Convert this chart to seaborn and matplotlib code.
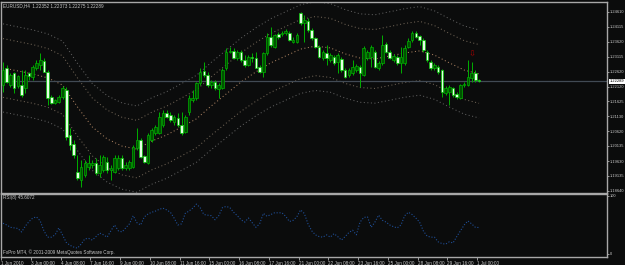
import numpy as np
import pandas as pd
import matplotlib
matplotlib.use("Agg")
import matplotlib.pyplot as plt
import matplotlib.transforms as mtransforms
import seaborn as sns

# ---------------- data (EURUSD H4, 1 Jun 16:00 -> 1 Jul 00:00 2010) ----------------
opens = [1.2217, 1.2274, 1.2217, 1.2257, 1.2214, 1.2217, 1.2207, 1.2257, 1.2244, 1.2274,
         1.2284, 1.2297, 1.2261, 1.2177, 1.2157, 1.2160, 1.2177, 1.2200, 1.2050, 1.2020,
         1.1927, 1.1900, 1.1917, 1.1943, 1.1950, 1.1957, 1.1923, 1.1933, 1.1960, 1.1933,
         1.1927, 1.1940, 1.1973, 1.1940, 1.1940, 1.1943, 1.2007, 1.2033, 1.1980, 1.1957,
         1.2033, 1.2057, 1.2057, 1.2083, 1.2124, 1.2117, 1.2094, 1.2107, 1.2083, 1.2060,
         1.2127, 1.2167, 1.2174, 1.2224, 1.2264, 1.2251, 1.2217, 1.2227, 1.2204, 1.2207,
         1.2274, 1.2327, 1.2331, 1.2307, 1.2327, 1.2301, 1.2284, 1.2311, 1.2307, 1.2277,
         1.2261, 1.2324, 1.2377, 1.2344, 1.2387, 1.2387, 1.2391, 1.2391, 1.2361, 1.2361,
         1.2458, 1.2424, 1.2431, 1.2401, 1.2374, 1.2344, 1.2307, 1.2324, 1.2301, 1.2311,
         1.2294, 1.2304, 1.2267, 1.2251, 1.2257, 1.2267, 1.2277, 1.2251, 1.2307, 1.2311,
         1.2327, 1.2274, 1.2291, 1.2354, 1.2327, 1.2301, 1.2311, 1.2291, 1.2291, 1.2344,
         1.2367, 1.2391, 1.2381, 1.2367, 1.2327, 1.2294, 1.2274, 1.2277, 1.2267, 1.2190,
         1.2194, 1.2207, 1.2187, 1.2174, 1.2217, 1.2217, 1.2241, 1.2257, 1.22352]
highs = [1.2294, 1.2284, 1.2257, 1.2261, 1.2251, 1.2267, 1.2267, 1.2261, 1.2284, 1.2301,
         1.2324, 1.2307, 1.2267, 1.2184, 1.2170, 1.2184, 1.2214, 1.2210, 1.2073, 1.2033,
         1.1983, 1.1967, 1.1967, 1.1983, 1.1967, 1.1973, 1.1983, 1.1983, 1.1977, 1.1950,
         1.1983, 1.1983, 1.1983, 1.1960, 1.1967, 1.2017, 1.2073, 1.2040, 1.1983, 1.2057,
         1.2073, 1.2083, 1.2127, 1.2134, 1.2134, 1.2127, 1.2117, 1.2124, 1.2127, 1.2117,
         1.2184, 1.2200, 1.2227, 1.2274, 1.2294, 1.2261, 1.2234, 1.2234, 1.2224, 1.2274,
         1.2341, 1.2344, 1.2341, 1.2334, 1.2334, 1.2317, 1.2317, 1.2324, 1.2327, 1.2284,
         1.2327, 1.2391, 1.2411, 1.2387, 1.2394, 1.2397, 1.2404, 1.2397, 1.2377, 1.2391,
         1.2461, 1.2451, 1.2441, 1.2407, 1.2377, 1.2351, 1.2334, 1.2351, 1.2324, 1.2317,
         1.2324, 1.2311, 1.2274, 1.2274, 1.2301, 1.2287, 1.2284, 1.2347, 1.2334, 1.2351,
         1.2334, 1.2297, 1.2384, 1.2361, 1.2334, 1.2321, 1.2317, 1.2344, 1.2351, 1.2374,
         1.2397, 1.2397, 1.2384, 1.2374, 1.2334, 1.2301, 1.2291, 1.2284, 1.2271, 1.2214,
         1.2217, 1.2210, 1.2194, 1.2221, 1.2227, 1.2301, 1.2294, 1.2267, 1.22373]
lows = [1.2194, 1.2224, 1.2210, 1.2190, 1.2207, 1.2177, 1.2190, 1.2234, 1.2234, 1.2267,
        1.2267, 1.2261, 1.2150, 1.2154, 1.2154, 1.2157, 1.2170, 1.2033, 1.2000, 1.1973,
        1.1900, 1.1876, 1.1910, 1.1933, 1.1940, 1.1917, 1.1910, 1.1927, 1.1923, 1.1900,
        1.1923, 1.1933, 1.1933, 1.1933, 1.1933, 1.1940, 1.2000, 1.1973, 1.1957, 1.1953,
        1.2027, 1.2050, 1.2053, 1.2077, 1.2107, 1.2094, 1.2083, 1.2077, 1.2050, 1.2057,
        1.2117, 1.2160, 1.2167, 1.2217, 1.2244, 1.2210, 1.2207, 1.2200, 1.2174, 1.2204,
        1.2267, 1.2324, 1.2304, 1.2301, 1.2294, 1.2277, 1.2281, 1.2294, 1.2274, 1.2257,
        1.2244, 1.2317, 1.2344, 1.2341, 1.2371, 1.2381, 1.2384, 1.2364, 1.2357, 1.2357,
        1.2417, 1.2361, 1.2394, 1.2367, 1.2341, 1.2307, 1.2301, 1.2284, 1.2294, 1.2284,
        1.2257, 1.2261, 1.2241, 1.2244, 1.2251, 1.2261, 1.2210, 1.2247, 1.2301, 1.2277,
        1.2274, 1.2267, 1.2284, 1.2324, 1.2304, 1.2294, 1.2284, 1.2257, 1.2284, 1.2341,
        1.2361, 1.2374, 1.2351, 1.2327, 1.2294, 1.2267, 1.2267, 1.2254, 1.2177, 1.2184,
        1.2150, 1.2177, 1.2170, 1.2170, 1.2210, 1.2214, 1.2227, 1.2227, 1.22275]
closes = [1.2267, 1.2227, 1.2251, 1.2207, 1.2247, 1.2184, 1.2251, 1.2247, 1.2277, 1.2291,
          1.2301, 1.2261, 1.2174, 1.2157, 1.2167, 1.2177, 1.2207, 1.2043, 1.2017, 1.1983,
          1.1906, 1.1943, 1.1957, 1.1957, 1.1957, 1.1923, 1.1950, 1.1977, 1.1933, 1.1940,
          1.1973, 1.1973, 1.1940, 1.1950, 1.1960, 1.2010, 1.2033, 1.1977, 1.1960, 1.2050,
          1.2067, 1.2077, 1.2110, 1.2124, 1.2110, 1.2101, 1.2110, 1.2083, 1.2057, 1.2110,
          1.2174, 1.2174, 1.2224, 1.2261, 1.2251, 1.2217, 1.2227, 1.2207, 1.2217, 1.2267,
          1.2327, 1.2331, 1.2307, 1.2327, 1.2301, 1.2284, 1.2311, 1.2307, 1.2274, 1.2261,
          1.2324, 1.2377, 1.2351, 1.2384, 1.2377, 1.2391, 1.2397, 1.2367, 1.2367, 1.2384,
          1.2424, 1.2434, 1.2401, 1.2374, 1.2344, 1.2311, 1.2327, 1.2307, 1.2317, 1.2291,
          1.2317, 1.2267, 1.2244, 1.2267, 1.2277, 1.2281, 1.2257, 1.2341, 1.2327, 1.2344,
          1.2277, 1.2291, 1.2351, 1.2327, 1.2307, 1.2314, 1.2291, 1.2311, 1.2341, 1.2364,
          1.2391, 1.2377, 1.2367, 1.2334, 1.2301, 1.2274, 1.2284, 1.2261, 1.2194, 1.2207,
          1.2210, 1.2184, 1.2177, 1.2217, 1.2221, 1.2244, 1.2257, 1.2234, 1.22289]

rsi_values = [53, 50, 46, 45, 44, 38, 48, 56, 62, 64, 57, 40, 29, 29, 33, 45, 33, 20, 15, 12,
              10, 17, 26, 27, 24, 30, 36, 33, 29, 40, 50, 40, 38, 45, 52, 66, 54, 50, 64, 69,
              72, 74, 77, 79, 76, 72, 62, 50, 52, 70, 74, 79, 86, 80, 68, 67, 66, 59, 66, 80,
              82, 80, 72, 66, 59, 55, 62, 54, 46, 52, 70, 65, 68, 71, 71, 71, 65, 56, 58, 64,
              76, 70, 52, 40, 33, 30, 29, 33, 29, 35, 30, 24, 30, 37, 41, 33, 55, 63, 64, 46,
              55, 67, 58, 55, 50, 47, 45, 50, 66, 72, 68, 62, 55, 40, 31, 29, 29, 21, 18, 17,
              21, 19, 30, 40, 50, 57, 52, 46, 45.6072]

ma_bars = list(range(0, 129, 4))
ma_values = [1.2274, 1.2264, 1.2254, 1.2241, 1.2217, 1.2144, 1.2077, 1.2037, 1.2013, 1.2003,
             1.2030, 1.2050, 1.2077, 1.2104, 1.2147, 1.2187, 1.2227, 1.2261, 1.2291, 1.2314,
             1.2337, 1.2347, 1.2341, 1.2321, 1.2307, 1.2304, 1.2314, 1.2324, 1.2331, 1.2317,
             1.2291, 1.2267, 1.2254]
env_inner = 0.008
env_outer = 0.012

price_ticks = [1.24610, 1.24115, 1.23620, 1.23115, 1.22620, 1.22120, 1.21625,
               1.21130, 1.20620, 1.20135, 1.19630, 1.19135, 1.18640]
bid_price = 1.22289
date_bars = list(range(0, 129, 8))
date_labels = ["1 Jun 2010", "3 Jun 00:00", "4 Jun 08:00", "7 Jun 16:00", "9 Jun 00:00",
               "10 Jun 08:00", "11 Jun 16:00", "15 Jun 00:00", "16 Jun 08:00", "17 Jun 16:00",
               "21 Jun 00:00", "22 Jun 08:00", "23 Jun 16:00", "25 Jun 00:00", "28 Jun 08:00",
               "29 Jun 16:00", "1 Jul 00:00"]
fractal_bars = [126]
fractal_prices = [1.2321]
title_text = "EURUSD,H4  1.22352 1.22373 1.22275 1.22289"
rsi_title = "RSI(8) 45.6072"
footer = "FxPro MT4, \u00a9 2001-2009 MetaQuotes Software Corp."

# ---------------- styling ----------------
sns.set_theme(style="dark")
BG = "#0b0c0c"
plt.rcParams.update({
    "figure.facecolor": BG, "axes.facecolor": BG, "savefig.facecolor": BG,
    "axes.edgecolor": "#b0b0b0", "axes.grid": False,
})
plt.rcParams["font.family"] = ["Liberation Sans", "DejaVu Sans"]
FS = 3.3
FSY = 2.85
TXT = "#c8c8c8"

W, H = 625, 265
fig = plt.figure(figsize=(W / 100, H / 100), dpi=100)

def fy(py):
    return 1 - py / H

ax = fig.add_axes([1 / W, fy(192.5), 606 / W, (192.5 - 2) / H])
axr = fig.add_axes([1 / W, fy(257), 606 / W, (257 - 193.5) / H], sharex=ax)

idx = np.arange(len(closes))
o = np.array(opens); c = np.array(closes); h = np.array(highs); l = np.array(lows)
bull = c >= o

# envelopes and moving average
ma = np.array(ma_values)
band_specs = [(env_outer, "#5e5e5e"), (env_inner, "#6e6254"), (0.0, "#a88060"),
              (-env_inner, "#6e6254"), (-env_outer, "#5e5e5e")]
for k, col in band_specs:
    sns.lineplot(x=ma_bars, y=ma * (1 + k), ax=ax, color=col, linewidth=0.75,
                 linestyle=(0, (1, 2.4)), legend=False, errorbar=None, zorder=1)

# bid line
ax.axhline(bid_price, color="#414a54", linewidth=0.9, zorder=1)

# candles
wick_col = "#00b000"
ax.vlines(idx, l, h, color=wick_col, linewidth=0.7, zorder=2)
bh = np.maximum(np.abs(c - o), 0.00012)
ax.bar(idx[bull], bh[bull], bottom=np.minimum(o, c)[bull], width=0.7,
       color="#005200", edgecolor="#00b000", linewidth=0.5, zorder=3)
ax.bar(idx[~bull], bh[~bull], bottom=np.minimum(o, c)[~bull], width=0.7,
       color="#e4ffe4", edgecolor="#00c800", linewidth=0.5, zorder=3)

for fb, fp in zip(fractal_bars, fractal_prices):
    ax.text(fb, fp, "\u21e9", color="#a80000", fontsize=6, ha="center", va="center",
            family="DejaVu Sans", zorder=4)

# axes ranges
ax.set_xlim(-0.54, 162.4)
ax.set_ylim(1.18580, 1.24943)
axr.set_ylim(-5.2, 104.3)

# RSI
sns.lineplot(x=idx, y=rsi_values, ax=axr, color="#1f4f98", linewidth=0.8,
             linestyle=(0, (1, 1.6)), legend=False, errorbar=None)

# ticks and labels
for a in (ax, axr):
    a.yaxis.tick_right()
    a.tick_params(axis="y", direction="out", length=1.6, width=0.6, colors="#b0b0b0",
                  labelcolor=TXT, labelsize=FSY, pad=0.6)
    for s in a.spines.values():
        s.set_color("#a8a8a8")
        s.set_linewidth(1.0)
    a.set_xlabel("")
    a.set_ylabel("")

ax.set_yticks(price_ticks)
ax.set_yticklabels([f"{p:.5f}" for p in price_ticks])
ax.tick_params(axis="x", bottom=False, labelbottom=False)

axr.set_yticks([100, 0])
axr.set_yticklabels(["100", "0"])
axr.set_xticks([b - 0.5 for b in date_bars])
axr.set_xticklabels(date_labels, ha="left")
axr.tick_params(axis="x", direction="out", length=2.2, width=0.6, colors="#b0b0b0",
                labelcolor=TXT, labelsize=FS, pad=0.8, bottom=True, labelbottom=True)

# current price box
tr = mtransforms.blended_transform_factory(ax.transAxes, ax.transData)
ax.text(1.0045, bid_price, f"{bid_price:.5f}", transform=tr, fontsize=FSY, color="black",
        ha="left", va="center", clip_on=False,
        bbox=dict(boxstyle="square,pad=0.15", facecolor="white", edgecolor="none"))

fig.text(3 / W, fy(5.5), title_text, color=TXT, fontsize=FS, ha="left", va="center")
fig.text(3 / W, fy(198), rsi_title, color=TXT, fontsize=FS, ha="left", va="center")
fig.text(3 / W, fy(252), footer, color=TXT, fontsize=FS, ha="left", va="center")

fig.savefig("out.png", dpi=100, facecolor=BG)
